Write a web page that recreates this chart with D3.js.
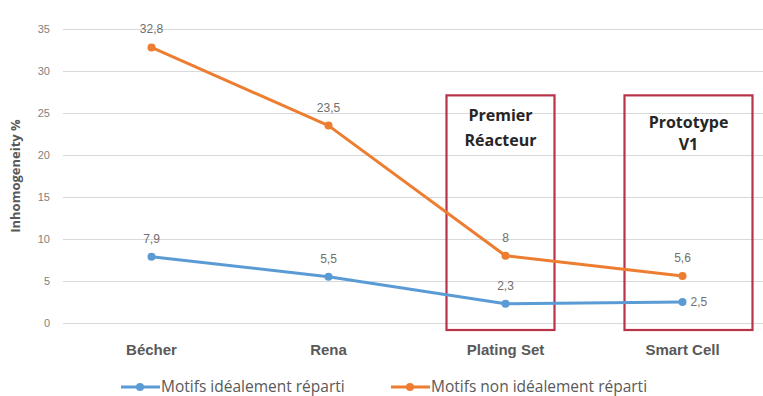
<!DOCTYPE html>
<html>
<head>
<meta charset="utf-8">
<script src="https://cdn.jsdelivr.net/npm/d3@7"></script>
<style>
  html, body { margin: 0; padding: 0; background: #fff; }
  svg { display: block; font-family: "Open Sans", "Liberation Sans", sans-serif; }
</style>
</head>
<body>
<svg id="chart" width="763" height="396"></svg>
<script>
const categories = ["Bécher", "Rena", "Plating Set", "Smart Cell"];
const seriesNames = ["Motifs idéalement réparti", "Motifs non idéalement réparti"];
const idealValues = [7.9, 5.5, 2.3, 2.5];
const nonIdealValues = [32.8, 23.5, 8, 5.6];
const yTicks = [0, 5, 10, 15, 20, 25, 30, 35];
const boxCategories = ["Plating Set", "Smart Cell"];
const boxLabels = [["Premier", "Réacteur"], ["Prototype", "V1"]];
const yTitle = "Inhomogeneity %";

const colors = ["#5b9bd5", "#ed7d31"];
const svg = d3.select("#chart");

const x = d3.scaleBand().domain(categories).range([63, 771]).padding(0);
const cx = c => x(c) + x.bandwidth() / 2;
const y = d3.scaleLinear().domain([0, 35]).range([323, 29]);

// gridlines
svg.append("g").selectAll("line").data(yTicks).join("line")
  .attr("x1", 63).attr("x2", 763)
  .attr("y1", d => Math.round(y(d)) + 0.5).attr("y2", d => Math.round(y(d)) + 0.5)
  .attr("stroke", "#d9d9d9").attr("stroke-width", 1);

// y axis tick labels
const yAxis = svg.append("g").attr("transform", "translate(50,0)")
  .call(d3.axisLeft(y).tickValues(yTicks).tickSize(0).tickPadding(0));
yAxis.select(".domain").remove();
yAxis.selectAll("text").attr("font-size", 11).attr("fill", "#7f7f7f")
  .attr("font-family", "'Liberation Sans', sans-serif");

// y title
svg.append("text")
  .attr("transform", `translate(20,${(y(0) + y(35)) / 2}) rotate(-90)`)
  .attr("text-anchor", "middle").attr("font-size", 13).attr("font-weight", "bold")
  .attr("fill", "#595959").text(yTitle);

// x axis labels
const xAxis = svg.append("g").attr("transform", "translate(0,350)")
  .call(d3.axisBottom(x).tickSize(0).tickPadding(0));
xAxis.select(".domain").remove();
xAxis.selectAll("text").attr("font-size", 15).attr("font-weight", "600")
  .attr("fill", "#595959").attr("dy", "0.35em");

// boxes
const boxOffsets = [[-59, 49], [-58, 70]];
boxCategories.forEach((c, i) => {
  const x0 = cx(c) + boxOffsets[i][0];
  const x1 = cx(c) + boxOffsets[i][1];
  const top = y(27.1), bottom = y(0) + 7;
  svg.append("rect").attr("x", x0).attr("y", top)
    .attr("width", x1 - x0).attr("height", bottom - top)
    .attr("fill", "none").attr("stroke", "#b8324a").attr("stroke-width", 2.2);
  const mid = (x0 + x1) / 2;
  boxLabels[i].forEach((t, j) => {
    svg.append("text").attr("x", mid).attr("y", top + (i === 0 ? 26 : 33) + j * (i === 0 ? 25 : 22))
      .attr("text-anchor", "middle").attr("font-size", 16).attr("font-weight", "bold")
      .attr("fill", "#262626").text(t);
  });
});

// series
const series = [idealValues, nonIdealValues];
const line = d3.line().x((d, i) => cx(categories[i])).y(d => y(d));
series.forEach((vals, s) => {
  svg.append("path").datum(vals).attr("d", line)
    .attr("fill", "none").attr("stroke", colors[s]).attr("stroke-width", 3)
    .attr("stroke-linejoin", "round").attr("stroke-linecap", "round");
  svg.append("g").selectAll("circle").data(vals).join("circle")
    .attr("cx", (d, i) => cx(categories[i])).attr("cy", d => y(d)).attr("r", 4)
    .attr("fill", colors[s]);
  svg.append("g").selectAll("text").data(vals).join("text")
    .attr("x", (d, i) => (s === 0 && i === 3) ? cx(categories[i]) + 8 : cx(categories[i]))
    .attr("y", (d, i) => (s === 0 && i === 3) ? y(d) + 4 : y(d) - 14)
    .attr("text-anchor", (d, i) => (s === 0 && i === 3) ? "start" : "middle")
    .attr("font-size", 12).attr("fill", "#6f6f6f")
    .attr("font-family", "'Liberation Sans', sans-serif")
    .text(d => String(d).replace(".", ","));
});

// legend
const legendX = [121, 391];
seriesNames.forEach((n, s) => {
  const g = svg.append("g").attr("transform", `translate(${legendX[s]},387)`);
  g.append("line").attr("x1", 0).attr("x2", 39).attr("y1", 0).attr("y2", 0)
    .attr("stroke", colors[s]).attr("stroke-width", 3);
  g.append("circle").attr("cx", 19).attr("cy", 0).attr("r", 4).attr("fill", colors[s]);
  g.append("text").attr("x", 40).attr("y", 0).attr("dy", "0.35em")
    .attr("font-size", 15.5).attr("fill", "#595959").text(n);
});
</script>
</body>
</html>
